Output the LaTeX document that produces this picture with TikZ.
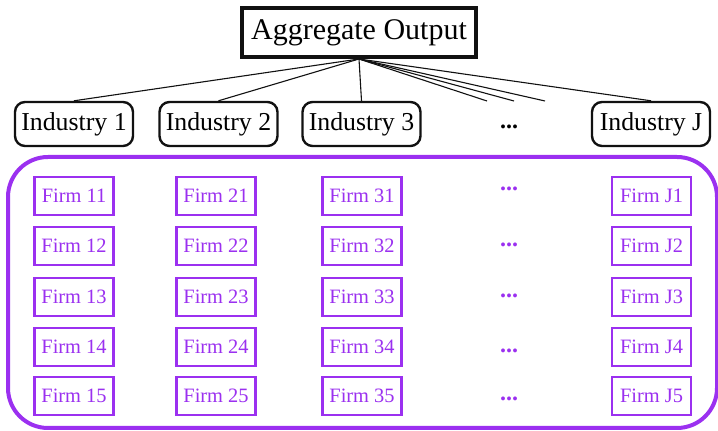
\documentclass[tikz,border=0pt]{standalone}
\usepackage{fontspec}
\setmainfont{Liberation Serif}
\usepackage{tikz}
\usepackage{xcolor}
\usetikzlibrary{positioning}
\definecolor{ink}{HTML}{111111}
\definecolor{firmviolet}{HTML}{9B30F0}
\tikzset{
  topbox/.style={draw=ink,fill=white,line width=2pt,
                 minimum width=117pt,minimum height=24.5pt,inner sep=2pt,
                 font=\fontsize{15}{18}\selectfont},
  industrycard/.style={draw=ink,fill=white,line width=1.2pt,rounded corners=5pt,
                       minimum width=59pt,minimum height=22pt,inner sep=2pt,
                       font=\fontsize{12.9}{15}\selectfont},
  firmcard/.style={draw=firmviolet,fill=white,line width=1.2pt,text=firmviolet,
                   minimum width=39.5pt,minimum height=19pt,inner sep=1pt,
                   font=\fontsize{10.2}{12}\selectfont},
  firmframe/.style={draw=firmviolet,line width=2pt,rounded corners=20pt,
                    minimum width=354.5pt,minimum height=135.5pt,inner sep=0pt},
  moredots/.style={inner sep=0pt,font=\fontsize{12}{14}\selectfont\bfseries},
  tieline/.style={line width=0.55pt,color=ink}
}
\begin{document}
\begin{tikzpicture}[x=0.5pt,y=-0.5pt]
  \useasboundingbox (0,0) rectangle (718,431);

  % top level and industries
  \node[topbox] (agg) at (359,32.5) {Aggregate Output};
  \node[industrycard] (ind1) at (74,124) {Industry 1};
  \node[industrycard] (ind2) at (218.5,124) {Industry 2};
  \node[industrycard] (ind3) at (361.5,124) {Industry 3};
  \node[moredots] (inddots) at (509,127) {...};
  \node[industrycard] (indJ) at (651,124) {Industry J};

  \coordinate (tieA) at (487,101);
  \coordinate (tieB) at (514,101);
  \coordinate (tieC) at (545,101);

  \draw[tieline] (agg.south) -- (ind1.north);
  \draw[tieline] (agg.south) -- (ind2.north);
  \draw[tieline] (agg.south) -- (ind3.north);
  \draw[tieline] (agg.south) -- (tieA);
  \draw[tieline] (agg.south) -- (tieB);
  \draw[tieline] (agg.south) -- (tieC);
  \draw[tieline] (agg.south) -- (indJ.north);

  % firms
  \node[firmframe] (firms) at (362.5,292.5) {};

  \node[firmcard] (f11) at (74,196) {Firm 11};
  \node[firmcard] (f12) at (74,246) {Firm 12};
  \node[firmcard] (f13) at (74,297) {Firm 13};
  \node[firmcard] (f14) at (74,347) {Firm 14};
  \node[firmcard] (f15) at (74,396) {Firm 15};

  \node[firmcard] (f21) at (216,196) {Firm 21};
  \node[firmcard] (f22) at (216,246) {Firm 22};
  \node[firmcard] (f23) at (216,297) {Firm 23};
  \node[firmcard] (f24) at (216,347) {Firm 24};
  \node[firmcard] (f25) at (216,396) {Firm 25};

  \node[firmcard] (f31) at (362,196) {Firm 31};
  \node[firmcard] (f32) at (362,246) {Firm 32};
  \node[firmcard] (f33) at (362,297) {Firm 33};
  \node[firmcard] (f34) at (362,347) {Firm 34};
  \node[firmcard] (f35) at (362,396) {Firm 35};

  \node[moredots,text=firmviolet] (d1) at (509,189) {...};
  \node[moredots,text=firmviolet] (d2) at (509,245) {...};
  \node[moredots,text=firmviolet] (d3) at (509,296) {...};
  \node[moredots,text=firmviolet] (d4) at (509,351) {...};
  \node[moredots,text=firmviolet] (d5) at (509,399) {...};

  \node[firmcard] (fJ1) at (651.5,196) {Firm J1};
  \node[firmcard] (fJ2) at (651.5,246) {Firm J2};
  \node[firmcard] (fJ3) at (651.5,297) {Firm J3};
  \node[firmcard] (fJ4) at (651.5,347) {Firm J4};
  \node[firmcard] (fJ5) at (651.5,396) {Firm J5};
\end{tikzpicture}
\end{document}
